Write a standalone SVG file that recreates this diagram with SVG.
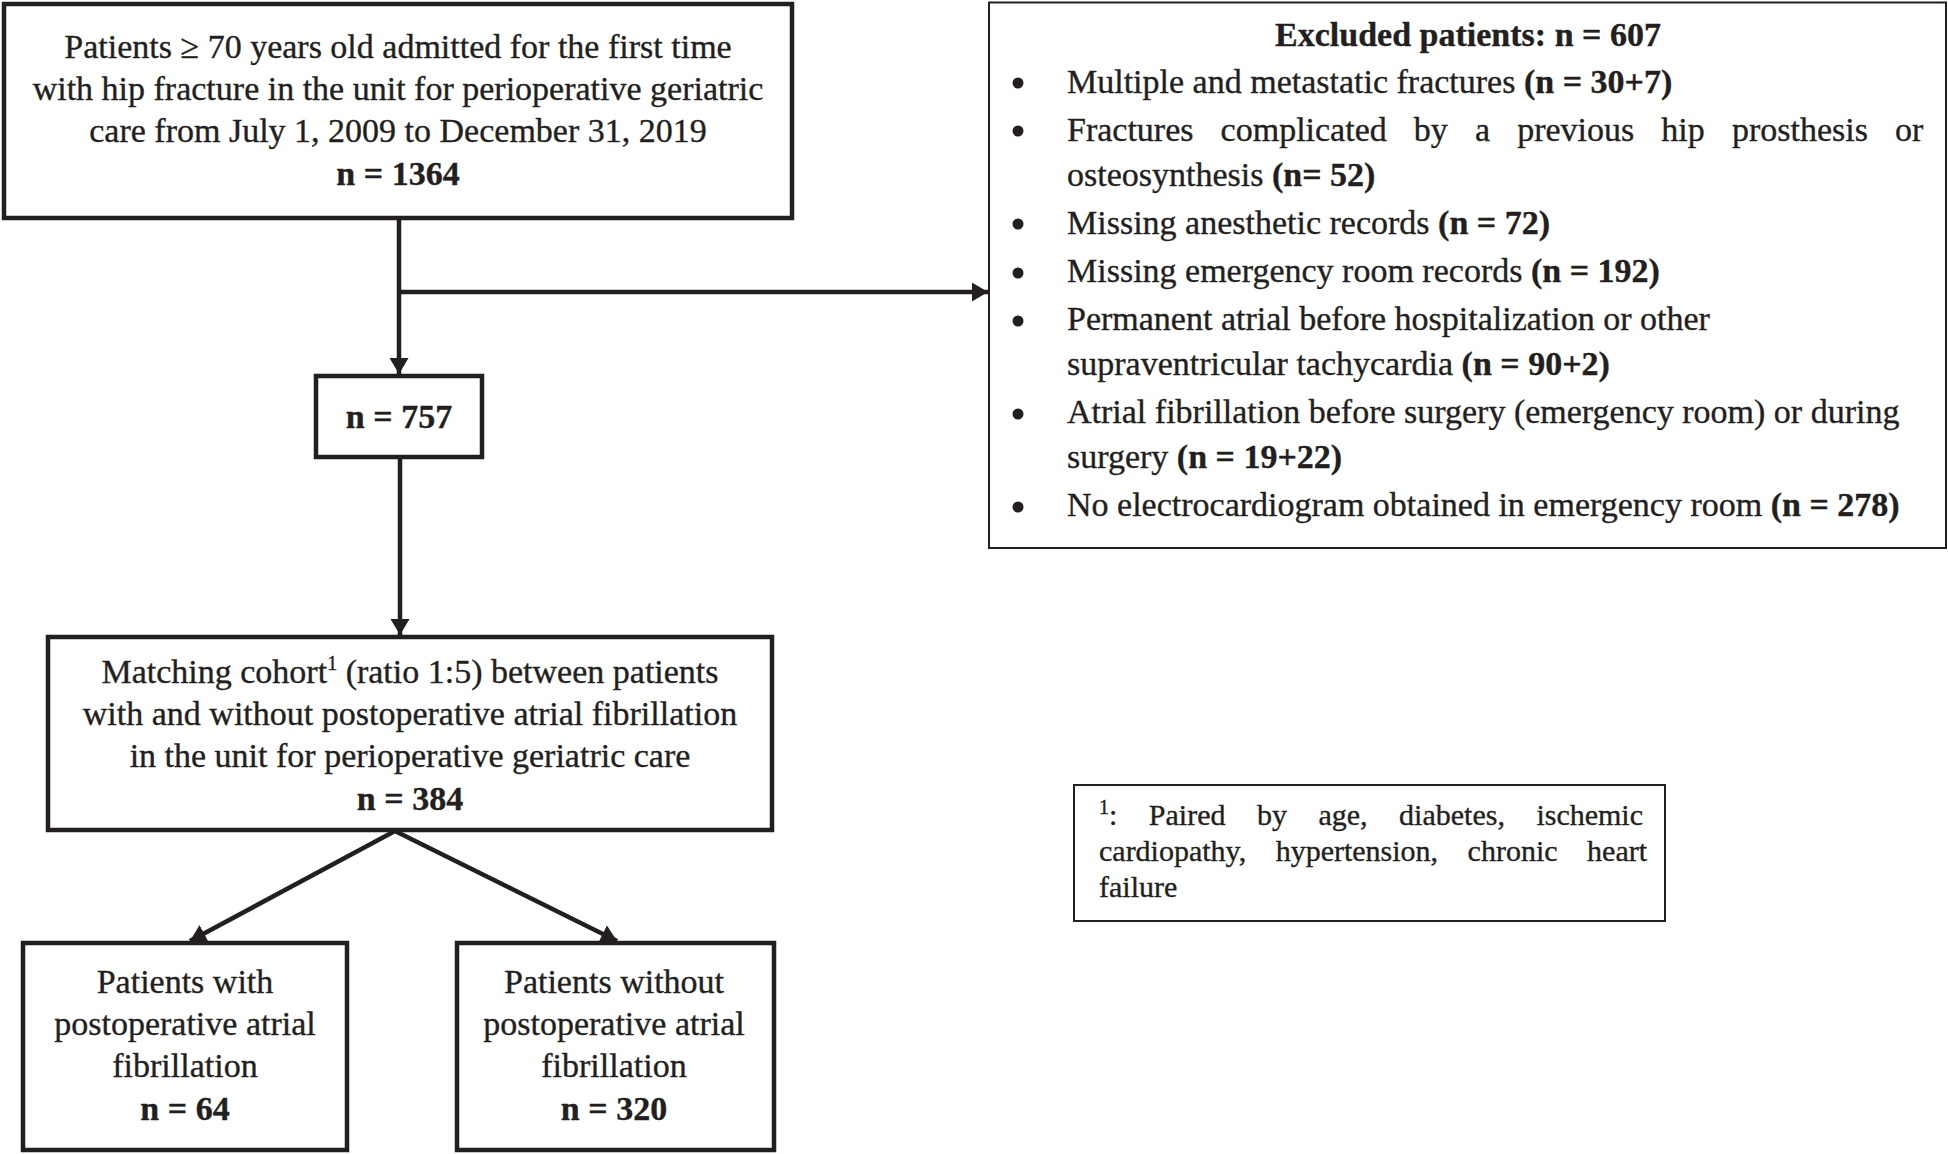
<svg xmlns="http://www.w3.org/2000/svg" width="1948" height="1154" viewBox="0 0 1948 1154">
<style>
  text { font-family: "Liberation Serif", "Times New Roman", serif; font-size: 34px; fill: #231f20; stroke: #231f20; stroke-width: 0.35; }
  .c { text-anchor: middle; }
  .b { font-weight: bold; }
  .thick { fill: #fff; stroke: #231f20; stroke-width: 4.5; }
  .thin { fill: #fff; stroke: #231f20; stroke-width: 2; }
  .conn { fill: none; stroke: #231f20; stroke-width: 4.5; }
  .fn { font-size: 30px; }
  .sup { font-size: 20px; }
</style>
<defs>
  <marker id="ah" markerUnits="userSpaceOnUse" markerWidth="20" markerHeight="20" refX="16" refY="9.5" orient="auto">
    <path d="M0,0 L16,9.5 L0,19 z" fill="#231f20"/>
  </marker>
</defs>
<rect width="1948" height="1154" fill="#fff"/>

<g id="connectors">
  <line class="conn" x1="399" y1="218" x2="399" y2="374" marker-end="url(#ah)"/>
  <line class="conn" x1="399" y1="292" x2="988" y2="292" marker-end="url(#ah)"/>
  <line class="conn" x1="400" y1="457" x2="400" y2="635" marker-end="url(#ah)"/>
  <line class="conn" x1="395" y1="831" x2="190" y2="941" marker-end="url(#ah)"/>
  <line class="conn" x1="395" y1="831" x2="617" y2="941" marker-end="url(#ah)"/>
</g>

<g id="node-initial">
  <rect class="thick" x="4" y="4" width="788" height="214"/>
  <text class="c" x="398" y="58">Patients ≥ 70 years old admitted for the first time</text>
  <text class="c" x="398" y="100">with hip fracture in the unit for perioperative geriatric</text>
  <text class="c" x="398" y="142">care from July 1, 2009 to December 31, 2019</text>
  <text class="c b" x="398" y="185">n = 1364</text>
</g>

<g id="node-757">
  <rect class="thick" x="316" y="376" width="166" height="81"/>
  <text class="c b" x="399" y="428">n = 757</text>
</g>

<g id="node-excluded">
  <rect class="thin" x="989" y="2.5" width="957" height="545.5"/>
  <text class="c b" x="1468" y="46">Excluded patients: n = 607</text>
  <circle cx="1018" cy="83" r="5.5" fill="#231f20"/>
  <text x="1067" y="93">Multiple and metastatic fractures <tspan class="b">(n = 30+7)</tspan></text>
  <circle cx="1018" cy="131" r="5.5" fill="#231f20"/>
  <text x="1067" y="141" word-spacing="18.6">Fractures complicated by a previous hip prosthesis or</text>
  <text x="1067" y="186">osteosynthesis <tspan class="b">(n= 52)</tspan></text>
  <circle cx="1018" cy="224" r="5.5" fill="#231f20"/>
  <text x="1067" y="234">Missing anesthetic records <tspan class="b">(n = 72)</tspan></text>
  <circle cx="1018" cy="273" r="5.5" fill="#231f20"/>
  <text x="1067" y="282">Missing emergency room records <tspan class="b">(n = 192)</tspan></text>
  <circle cx="1018" cy="321" r="5.5" fill="#231f20"/>
  <text x="1067" y="330">Permanent atrial before hospitalization or other</text>
  <text x="1067" y="375">supraventricular tachycardia <tspan class="b">(n = 90+2)</tspan></text>
  <circle cx="1018" cy="414" r="5.5" fill="#231f20"/>
  <text x="1067" y="423">Atrial fibrillation before surgery (emergency room) or during</text>
  <text x="1067" y="468">surgery <tspan class="b">(n = 19+22)</tspan></text>
  <circle cx="1018" cy="507" r="5.5" fill="#231f20"/>
  <text x="1067" y="516">No electrocardiogram obtained in emergency room <tspan class="b">(n = 278)</tspan></text>
</g>

<g id="node-matching">
  <rect class="thick" x="48" y="637" width="724" height="193"/>
  <text class="c" x="410" y="683">Matching cohort<tspan class="sup" dy="-13">1</tspan><tspan dy="13"> (ratio 1:5) between patients</tspan></text>
  <text class="c" x="410" y="725">with and without postoperative atrial fibrillation</text>
  <text class="c" x="410" y="767">in the unit for perioperative geriatric care</text>
  <text class="c b" x="410" y="810">n = 384</text>
</g>

<g id="node-with-poaf">
  <rect class="thick" x="23" y="943" width="324" height="207"/>
  <text class="c" x="185" y="993">Patients with</text>
  <text class="c" x="185" y="1035">postoperative atrial</text>
  <text class="c" x="185" y="1077">fibrillation</text>
  <text class="c b" x="185" y="1120">n = 64</text>
</g>

<g id="node-without-poaf">
  <rect class="thick" x="457" y="943" width="317" height="207"/>
  <text class="c" x="614" y="993">Patients without</text>
  <text class="c" x="614" y="1035">postoperative atrial</text>
  <text class="c" x="614" y="1077">fibrillation</text>
  <text class="c b" x="614" y="1120">n = 320</text>
</g>

<g id="node-footnote">
  <rect class="thin" x="1074" y="785" width="591" height="136"/>
  <text class="fn" x="1099" y="825" word-spacing="24"><tspan class="sup" dy="-11">1</tspan><tspan dy="11">: Paired by age, diabetes, ischemic</tspan></text>
  <text class="fn" x="1099" y="861" word-spacing="22">cardiopathy, hypertension, chronic heart</text>
  <text class="fn" x="1099" y="897">failure</text>
</g>
</svg>
